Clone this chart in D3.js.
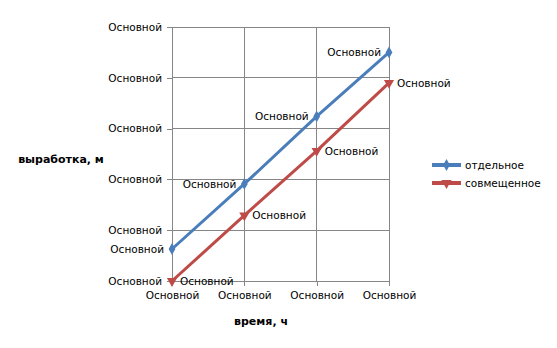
<!DOCTYPE html>
<html><head><meta charset="utf-8">
<script src="https://cdn.jsdelivr.net/npm/d3@7"></script>
<style>body{margin:0;background:#fff}text{font-family:"DejaVu Sans",sans-serif}</style>
</head><body><svg id="c" width="557" height="348"></svg>
<script>
const xValues = [0, 1, 2, 3];
const seriesNames = ["отдельное", "совмещенное"];
const separateValues = [0.63, 1.91, 3.24, 4.50];
const combinedValues = [0.0, 1.29, 2.56, 3.90];
const yTicks = [0, 1, 2, 3, 4, 5];
const xTicks = [0, 1, 2, 3];
const tickLabel = "Основной";
const colors = ["#4a7ebb", "#be4b48"];

const svg = d3.select("#c");
const x = d3.scaleLinear().domain([0, 3]).range([172, 389]);
const y = d3.scaleLinear().domain([0, 5]).range([281, 27]);
const fs = 10.5;

// grid
svg.append("g").selectAll("line").data(yTicks).join("line")
  .attr("x1", x(0)).attr("x2", x(3)).attr("y1", d => y(d)).attr("y2", d => y(d))
  .attr("stroke", "#868686").attr("stroke-width", 1).attr("shape-rendering", "crispEdges");
svg.append("g").selectAll("line").data(xTicks).join("line")
  .attr("x1", d => x(d)).attr("x2", d => x(d)).attr("y1", y(0)).attr("y2", y(5))
  .attr("stroke", "#868686").attr("stroke-width", 1).attr("shape-rendering", "crispEdges");

// axes
const yAxis = d3.axisLeft(y).tickValues(yTicks).tickFormat(() => tickLabel).tickSize(5).tickPadding(5);
const gy = svg.append("g").attr("transform", `translate(${x(0)},0)`).call(yAxis);
const xAxis = d3.axisBottom(x).tickValues(xTicks).tickFormat(() => tickLabel).tickSize(5).tickPadding(6);
const gx = svg.append("g").attr("transform", `translate(0,${y(0)})`).call(xAxis);
[gy, gx].forEach(g => {
  g.select(".domain").attr("stroke", "#868686").attr("shape-rendering", "crispEdges");
  g.selectAll(".tick line").attr("stroke", "#868686").attr("shape-rendering", "crispEdges");
  g.selectAll("text").attr("font-size", fs).attr("fill", "#000").attr("font-family", "DejaVu Sans");
});

// series
const all = [separateValues, combinedValues];
const line = d3.line().x((d, i) => x(xValues[i])).y(d => y(d));
const diamond = d3.symbol().type(d3.symbolDiamond).size(40);
const tri = d3.symbol().type(d3.symbolTriangle).size(45);
all.forEach((vals, si) => {
  svg.append("path").attr("d", line(vals)).attr("fill", "none")
    .attr("stroke", colors[si]).attr("stroke-width", 3).attr("stroke-linejoin", "round");
  svg.append("g").selectAll("path").data(vals).join("path")
    .attr("d", si === 0 ? diamond() : tri())
    .attr("transform", (d, i) => `translate(${x(xValues[i])},${y(d)})${si === 1 ? " rotate(180)" : ""}`)
    .attr("fill", colors[si]);
  svg.append("g").selectAll("text").data(vals).join("text")
    .attr("x", (d, i) => si === 0 ? x(xValues[i]) - 8 : x(xValues[i]) + 8)
    .attr("y", d => y(d)).attr("dy", "0.35em")
    .attr("text-anchor", si === 0 ? "end" : "start")
    .attr("font-size", fs).attr("fill", "#000").text(tickLabel);
});

// axis titles
svg.append("text").attr("x", 61).attr("y", 159.5).attr("dy", "0.35em").attr("text-anchor", "middle")
  .attr("font-family", "Liberation Sans").attr("font-size", 11).attr("font-weight", "bold").text("выработка, м");
svg.append("text").attr("x", 261).attr("y", 321).attr("dy", "0.35em").attr("text-anchor", "middle")
  .attr("font-family", "Liberation Sans").attr("font-size", 11).attr("font-weight", "bold").text("время, ч");

// legend
const lg = svg.append("g");
seriesNames.forEach((n, i) => {
  const ly = 165 + i * 18;
  lg.append("line").attr("x1", 432).attr("x2", 461).attr("y1", ly).attr("y2", ly)
    .attr("stroke", colors[i]).attr("stroke-width", 4);
  lg.append("path").attr("d", i === 0 ? diamond() : tri())
    .attr("transform", `translate(446.5,${ly})${i === 1 ? " rotate(180)" : ""}`).attr("fill", colors[i]);
  lg.append("text").attr("x", 465).attr("y", ly).attr("dy", "0.35em")
    .attr("font-size", fs).attr("fill", "#000").text(n);
});
</script></body></html>
